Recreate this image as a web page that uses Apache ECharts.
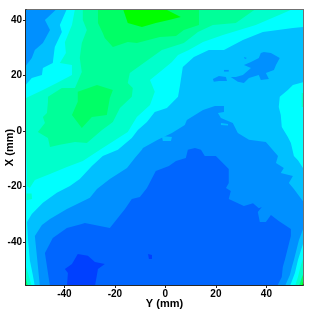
<!DOCTYPE html>
<html><head><meta charset="utf-8">
<style>html,body{margin:0;padding:0;background:#fff}#c{width:312px;height:312px}</style>
<script src="https://cdn.jsdelivr.net/npm/echarts@6/dist/echarts.min.js"></script>
</head><body><div id="c"></div>
<script>
var xMajor=[-40,-20,0,20,40];
var yMajor=[-40,-20,0,20,40];
var xMinor=[-45,-30,-5,30,35];
var yMinor=[30,25,10,-5,-25,-55];
var bandColors=['#0040ff','#0066ff','#0090ff','#00c0ff','#00ffff','#00ffcc','#00ff99','#00ff66','#00ff00'];
var full=[[-56,-56],[55,-56],[55,44],[-56,44]];
var high5=[[-35.8,44],[50.5,44],[46.9,42.5],[35.8,38.2],[31.9,37.1],[22.8,34.6],[14.9,32.1],[9.3,29.2],[5,27.4],[2.6,24.9],[-2.2,21.3],[-6.1,18.4],[-4.2,14.1],[-6.1,9.4],[-11.3,5],[-14.9,-0.4],[-18,-2.2],[-25.9,-6.8],[-32.7,-10.8],[-39,-13],[-45.7,-15.5],[-51.7,-17.7],[-53.7,-20.5],[-54.8,-19.8],[-54.8,-14.1],[-55.2,-6.8],[-56,11.5],[-48.5,14.8],[-43,17.3],[-37,20.2],[-37,23.8],[-41.8,24.5],[-39.4,28.1],[-39.8,32],[-37,38.2]];
var high5b=[[-55,-22.5],[-53,-22.5],[-52.8,-24.5],[-55,-25]];
var high5c=[[-56,-46.9],[-54.4,-51.2],[-52.9,-56],[-56,-56]];
var high5d=[[51.3,-56],[52.5,-52.6],[53.7,-48.3],[55,-44.7],[55,-56]];
var high5e=[[54,13.7],[55,13.7],[55,8.6],[54,8.6]];
var high6=[[-32.7,44],[35.8,44],[27.9,38.9],[18.8,38.2],[12.9,35.7],[7.3,31.7],[-1.4,29.2],[-14.1,20.9],[-14.9,17.3],[-12.9,15.5],[-13.3,12.3],[-18,8.3],[-20.8,3.2],[-25.1,0.4],[-31.1,-4.3],[-35.8,-4],[-41.8,-5],[-45.7,-5.8],[-46.5,-2.5],[-50.5,-0.4],[-47.7,2.9],[-48.5,5],[-46.9,6.5],[-46.5,10.5],[-46.5,12.3],[-41,15.5],[-35.8,15.5],[-33.1,21.3],[-33.9,26.3],[-33.1,31.7],[-31.1,36.4],[-32.7,40]];
var high7=[[-26.7,44],[13.3,44],[13.3,38.2],[7.3,36.4],[4.2,34.2],[-2.2,33.9],[-11.3,31.7],[-14.9,32.1],[-20.8,30.3],[-24,33.5],[-24.8,35.3],[-26.7,38.9]];
var high7b=[[-34.7,14.1],[-27.1,16.6],[-20.8,14.8],[-22,11.9],[-23.2,5.8],[-29.1,5],[-33.1,1.1],[-37,5.8],[-34.7,10.5]];
var high7c=[[-56,-50.5],[-54.4,-56],[-56,-56]];
var high7d=[[52.9,-56],[54.1,-52.6],[55,-50.8],[55,-56]];
var high8=[[-16.8,44],[-0.2,44],[6.1,41.1],[1.4,40],[-3.8,38.9],[-9.3,37.5],[-14.9,38.9]];
var high8b=[[-56,-53],[-55.2,-56],[-56,-56]];
var high8c=[[53.8,-56],[55,-53],[55,-56]];
var low3=[[-56,44],[-39,44],[-41.8,38.2],[-41,35.7],[-43.8,30.3],[-44.6,24.5],[-48.5,22.7],[-48.9,20.2],[-52.9,19.1],[-56,15.9]];
var low3b=[[55,37.5],[50.5,37.1],[38.6,35.7],[30.7,32.8],[23.2,29.2],[17.2,29.2],[11.3,26.7],[6.9,23.1],[5.7,15.9],[5,12.3],[0.6,8.3],[-4.2,6.8],[-7.3,3.2],[-10.9,0.4],[-13.3,-2.5],[-18.8,-6.8],[-24.8,-9],[-29.1,-12.6],[-33.9,-17.3],[-37.8,-19.8],[-43,-22.3],[-48.5,-25.9],[-52.9,-29.9],[-54.8,-32.8],[-54.4,-39.3],[-53.7,-46.5],[-52.5,-51.9],[-51.7,-56],[49.3,-56],[51.3,-51.2],[52.5,-46.5],[55,-39.3],[55,-14.1],[52.5,-10.5],[50.9,-9],[49.7,-4.3],[48.5,-2.2],[46.1,1.4],[45.7,5.8],[44.9,8.6],[45.3,12.3],[48.5,14.8],[50.5,16.6],[55,17.7]];
var low2=[[-56,44],[-43,44],[-47.7,40],[-45.7,36.4],[-48.5,31.7],[-51.7,29.2],[-52.9,26.3],[-56,22.7]];
var low2b=[[-49.7,-56],[-50.9,-45],[-51.7,-37.8],[-48.9,-33.9],[-45.7,-31.7],[-39,-28.1],[-29.9,-24.1],[-27.1,-20.9],[-22,-17.3],[-15.2,-13.3],[-12.1,-9.7],[-9.3,-6.8],[-8.9,-6.1],[-3,-3.2],[2.6,-0.7],[7.7,2.2],[8.5,4],[14.9,7.6],[19.6,9],[23.2,9],[23.2,6.8],[20.8,6.5],[22,4.7],[26.7,2.9],[28.7,-0.7],[33.1,-3.2],[39.8,-4],[44.6,-9],[43.8,-11.5],[46.9,-13.3],[45.7,-15.1],[50.5,-16.2],[48.9,-18.7],[50.9,-20.9],[55,-25.9],[55,-34.2],[52.9,-39.3],[50.9,-46.5],[50.1,-49],[49.3,-51.9],[47.3,-56]];
var low2c=[[39,28.5],[41.8,28.1],[45.3,26.3],[43.8,23.8],[43,22],[39.8,20.9],[41,18.7],[37.8,18.4],[37,20.2],[33.1,19.1],[31.1,17.3],[28.7,17.7],[25.9,19.5],[27.9,19.5],[30.7,20.2],[33.9,22.7],[31.1,23.8],[33.9,24.9],[37,26.3],[37.8,28.1]];
var low2d=[[18.8,18.7],[21.2,19.8],[24,19.5],[24.4,18],[21.2,18],[19.2,17.7]];
var low2e=[[23.2,22],[25.1,22],[25.1,21.4],[23.2,21.4]];
var low2f=[[31.1,26.7],[32.3,26.3],[31.5,25.9]];
var low3c=[[-1.4,-1.8],[2.6,-2.2],[2.2,-3.6],[-1,-3.6]];
var low3d=[[22,2.9],[24.8,2.5],[24.8,2],[22,2.2]];
var low1=[[-45.7,-56],[44.2,-56],[46.1,-52.6],[46.5,-49],[47.3,-46.5],[49.7,-37.8],[49.7,-35.3],[44.9,-32.4],[41.8,-30.3],[39.8,-32.8],[37.4,-32.8],[36.6,-29.2],[38.2,-27.4],[37,-27.8],[34.7,-26],[31.1,-27],[25.1,-24.5],[25.9,-21.6],[24,-20.5],[25.1,-18.7],[25.1,-13.7],[20,-9],[15.6,-9],[14.1,-6.8],[11.7,-6.1],[8.9,-6.8],[8.1,-9.7],[4.2,-10.8],[1.4,-12.6],[-3.8,-14.4],[-7.3,-20.5],[-10.1,-23.8],[-13.3,-24.5],[-16,-28.1],[-22,-35],[-31.9,-33.2],[-33.1,-33.5],[-39,-35],[-44.6,-38.6],[-47.7,-44]];
var low0=[[-34.7,-44.3],[-30.7,-45],[-27.9,-47.2],[-24,-47.9],[-26.7,-49.7],[-27.9,-56],[-39,-56],[-38.6,-51.2],[-39.8,-49.7],[-37,-47.9]];
var low0b=[[-6.9,-44.3],[-5.3,-44.7],[-5.3,-46.1],[-6.5,-46.1]];
var regions=[[4,full],[5,high5],[5,high5b],[5,high5c],[5,high5d],[5,high5e],[6,high6],[7,high7],[7,high7b],[7,high7c],[7,high7d],[8,high8],[8,high8b],[8,high8c],[3,low3],[3,low3b],[2,low2],[2,low2b],[2,low2c],[2,low2d],[2,low2e],[2,low2f],[3,low3c],[3,low3d],[1,low1],[0,low0],[0,low0b]];
var textBold={fontFamily:'"Liberation Sans",Arial,sans-serif',fontWeight:'bold',color:'#000'};
var chart=echarts.init(document.getElementById('c'),null,{renderer:'canvas'});
chart.setOption({
  animation:false,backgroundColor:'#fff',
  grid:{left:26,right:9,top:10,bottom:27,show:true,containLabel:false,outerBoundsMode:'none',borderColor:'#707070',borderWidth:2,backgroundColor:'#00ffff'},
  xAxis:[
   {type:'value',min:-55.2,max:54.5,position:'bottom',name:'Y (mm)',nameLocation:'middle',nameGap:13,nameMoveOverlap:false,
    nameTextStyle:Object.assign({fontSize:11},textBold),
    axisLine:{show:true,onZero:false,lineStyle:{color:'#111',width:1.5}},
    axisTick:{show:true,length:3,customValues:xMajor,lineStyle:{color:'#222'}},
    axisLabel:Object.assign({fontSize:10,margin:4,customValues:xMajor},textBold),splitLine:{show:false}},
   {type:'value',min:-55.2,max:54.5,position:'bottom',axisLine:{show:false},
    axisTick:{show:true,length:3,customValues:xMinor,lineStyle:{color:'#aaa'}},axisLabel:{show:false},splitLine:{show:false}}
  ],
  yAxis:[
   {type:'value',min:-55.5,max:43.6,position:'left',name:'X (mm)',nameLocation:'middle',nameGap:11,nameRotate:90,nameMoveOverlap:false,
    nameTextStyle:Object.assign({fontSize:11},textBold),
    axisLine:{show:true,onZero:false,lineStyle:{color:'#111',width:1.5}},
    axisTick:{show:true,length:3,customValues:yMajor,lineStyle:{color:'#222'}},
    axisLabel:Object.assign({fontSize:10,margin:4,customValues:yMajor},textBold),splitLine:{show:false}},
   {type:'value',min:-55.5,max:43.6,position:'left',axisLine:{show:false},
    axisTick:{show:true,length:3,customValues:yMinor,lineStyle:{color:'#aaa'}},axisLabel:{show:false},splitLine:{show:false}}
  ],
  series:[{
    type:'custom',clip:true,silent:true,xAxisIndex:0,yAxisIndex:0,
    data:regions.map(function(r,i){return [i];}),
    encode:{x:[],y:[]},
    renderItem:function(params,api){
      var r=regions[api.value(0)];
      return {type:'polygon',shape:{points:r[1].map(function(p){return api.coord(p);})},
              style:{fill:bandColors[r[0]],stroke:null}};
    }
  }]
});
</script></body></html>
